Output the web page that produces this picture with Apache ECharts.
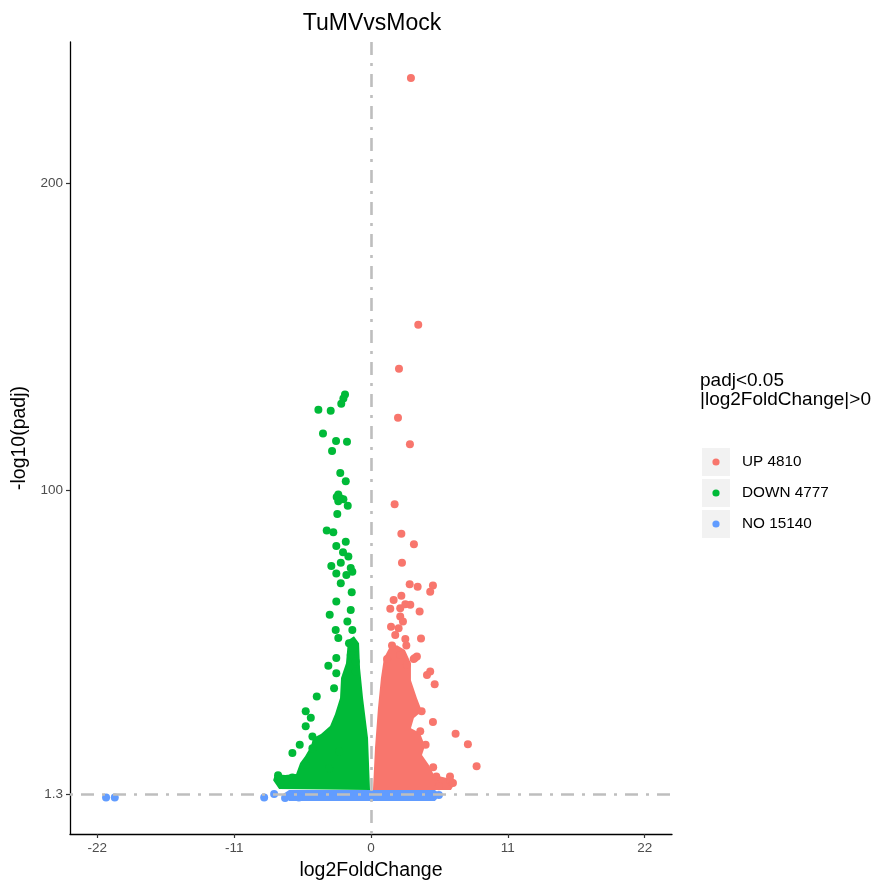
<!DOCTYPE html>
<html>
<head>
<meta charset="utf-8">
<script src="https://cdn.jsdelivr.net/npm/echarts@6/dist/echarts.min.js"></script>
<style>
  html, body { margin: 0; padding: 0; background: #fff; }
  #chart { width: 878px; height: 884px; }
</style>
</head>
<body>
<div id="chart"></div>
<script>
// Volcano plot: TuMV vs Mock differential expression
const plotTitle = 'TuMVvsMock';
const xTicks = [-22, -11, 0, 11, 22];
const yTicks = [1.3, 100, 200];
const padjCut = 1.3;
const fcCut = 0;
const legendTitle = ['padj<0.05', '|log2FoldChange|>0'];
const groupNames = ['UP', 'DOWN', 'NO'];
const groupCounts = [4810, 4777, 15140];
const groupColors = ['#F8766D', '#00BA38', '#619CFF'];

// Individually visible genes [log2FoldChange, -log10(padj)]
const upPoints = [
  [3.21, 234.1], [3.80, 153.9], [2.25, 139.6], [2.17, 123.6], [3.13, 115.0],
  [1.90, 95.5], [2.44, 85.9], [3.45, 82.5], [2.49, 76.5], [3.11, 69.5],
  [3.75, 68.7], [4.98, 69.1], [4.76, 67.1], [2.44, 65.8], [1.82, 64.4],
  [3.16, 62.8], [2.76, 63.0], [1.55, 61.5], [2.35, 61.7], [3.91, 60.6],
  [2.35, 59.0], [2.57, 57.4], [1.61, 55.7], [2.22, 55.2], [1.95, 53.0],
  [2.76, 51.7], [4.02, 51.9], [1.69, 49.6], [2.84, 49.6], [1.29, 45.2],
  [3.43, 45.2], [3.69, 46.0], [2.35, 46.5], [2.89, 43.3], [4.76, 41.1],
  [4.50, 40.0], [6.80, 20.9], [7.79, 17.5], [8.49, 10.3], [5.12, 37.0],
  [4.98, 24.7], [4.07, 28.2], [3.53, 45.5], [6.35, 7.0], [6.40, 5.4],
  [5.46, 3.8], [5.00, 10.0], [4.39, 17.3], [3.96, 21.7], [5.25, 7.0],
  [6.59, 4.9]
];
const downPoints = [
  [-2.09, 131.2], [-2.22, 129.9], [-2.39, 128.2], [-4.23, 126.2], [-3.24, 125.9],
  [-3.86, 118.5], [-2.81, 116.1], [-1.93, 115.8], [-3.13, 112.8], [-2.47, 105.7],
  [-2.03, 103.0], [-2.63, 98.7], [-2.76, 97.9], [-2.43, 97.4], [-2.22, 97.1],
  [-2.63, 96.5], [-1.87, 95.0], [-2.71, 92.3], [-3.56, 87.0], [-3.03, 86.4],
  [-2.03, 83.3], [-2.79, 81.9], [-2.25, 79.9], [-1.82, 78.5], [-2.43, 76.5],
  [-3.19, 75.4], [-1.63, 74.8], [-2.79, 73.0], [-1.98, 72.5], [-1.50, 73.6],
  [-2.43, 69.8], [-1.55, 66.9], [-2.79, 63.9], [-1.63, 61.1], [-3.32, 59.6],
  [-1.90, 57.4], [-2.84, 54.6], [-1.50, 54.6], [-2.63, 52.0], [-1.77, 50.3],
  [-1.37, 48.7], [-1.63, 46.5], [-2.79, 45.5], [-3.43, 43.0], [-1.23, 44.4],
  [-1.23, 41.1], [-2.79, 40.6], [-2.97, 35.7], [-4.36, 33.0], [-5.25, 28.2],
  [-4.84, 26.1], [-5.25, 23.3], [-4.71, 20.0], [-5.73, 17.3], [-6.32, 14.6],
  [-4.71, 16.2], [-5.25, 10.8], [-7.47, 7.4], [-6.32, 6.7], [-7.25, 4.9],
  [-2.57, 15.2], [-3.37, 9.7]
];
const noPoints = [
  [-21.3, 0.2], [-20.6, 0.2], [-8.59, 0.2], [-7.79, 1.3], [-6.91, 0.0],
  [-6.4, 0.7], [-5.8, 0.2], [5.0, 0.4], [5.46, 1.0]
];

// Outlines of the saturated regions where thousands of genes overlap
const downCore = [
  [-0.08, 2.6], [-0.24, 19.5], [-0.64, 32.5], [-0.88, 42.2], [-0.96, 50.3],
  [-1.37, 52.6], [-1.85, 51.3], [-2.01, 43.8], [-2.41, 39.0], [-2.49, 32.5],
  [-2.89, 27.3], [-3.29, 23.4], [-4.02, 20.8], [-4.66, 19.5], [-4.82, 16.9],
  [-5.30, 13.6], [-5.70, 11.4], [-6.02, 7.8], [-6.91, 7.5], [-7.71, 7.8],
  [-7.87, 5.8], [-7.39, 2.9]
];
const upCore = [
  [0.16, 2.6], [0.32, 16.2], [0.56, 29.2], [0.80, 39.0], [1.04, 45.5],
  [1.45, 48.7], [2.09, 49.7], [2.73, 48.1], [3.21, 43.8], [3.21, 38.3],
  [3.69, 32.5], [4.10, 28.2], [3.45, 26.0], [3.21, 22.7], [3.94, 21.1],
  [4.34, 16.9], [4.10, 14.0], [4.66, 10.7], [5.06, 7.5], [6.10, 6.5],
  [6.67, 4.2], [6.43, 2.6]
];
const noCore = [
  [-7.07, 1.3], [-6.59, 2.6], [5.14, 2.6], [5.54, 1.3], [5.14, -1.0], [-6.59, -1.0]
];

const FONT = '"Liberation Sans", Arial, Helvetica, sans-serif';

function coreSeries(outline, color) {
  return {
    type: 'custom',
    coordinateSystem: 'cartesian2d',
    silent: true,
    z: 2,
    data: [[0, 0]],
    renderItem: function (params, api) {
      return {
        type: 'polygon',
        shape: { points: outline.map(function (p) { return api.coord(p); }) },
        style: { fill: color }
      };
    }
  };
}

function pointSeries(name, pts, color) {
  return {
    name: name,
    type: 'scatter',
    symbol: 'circle',
    symbolSize: 8,
    z: 2,
    itemStyle: { color: color, opacity: 1 },
    data: pts
  };
}

// Legend drawn as keyed boxes to the right of the panel
const legendX = 702;
const legendTop = 448;
const keySize = 28;
const rowStep = 31;
const legendGraphics = [{
  type: 'text',
  left: 700,
  top: 371,
  style: {
    text: legendTitle.join('\n'),
    font: '19px ' + FONT,
    fill: '#000',
    lineHeight: 19
  }
}];
groupNames.forEach(function (g, i) {
  const y0 = legendTop + i * rowStep;
  legendGraphics.push({
    type: 'rect',
    shape: { x: legendX, y: y0, width: keySize, height: keySize },
    style: { fill: '#F2F2F2' }
  });
  legendGraphics.push({
    type: 'circle',
    shape: { cx: legendX + keySize / 2, cy: y0 + keySize / 2, r: 3.6 },
    style: { fill: groupColors[i] }
  });
  legendGraphics.push({
    type: 'text',
    x: legendX + 40,
    y: y0 + keySize / 2,
    style: {
      text: g + ' ' + groupCounts[i],
      font: '15.3px ' + FONT,
      fill: '#000',
      verticalAlign: 'middle'
    }
  });
});

const chart = echarts.init(document.getElementById('chart'), null, { renderer: 'canvas' });
chart.setOption({
  animation: false,
  backgroundColor: '#fff',
  title: {
    text: plotTitle,
    left: 367,
    top: 7,
    textAlign: 'center',
    textStyle: { fontSize: 23, fontWeight: 'normal', color: '#000', fontFamily: FONT }
  },
  grid: { left: 70, right: 206, top: 42, bottom: 50, containLabel: false, outerBoundsMode: 'none' },
  xAxis: {
    type: 'value',
    min: -24.2,
    max: 24.2,
    name: 'log2FoldChange',
    nameLocation: 'middle',
    nameGap: 27,
    nameTextStyle: { fontSize: 19.5, color: '#000', fontFamily: FONT },
    axisLine: { onZero: false, lineStyle: { color: '#000', width: 1.3 } },
    axisTick: { customValues: xTicks, length: 4, lineStyle: { color: '#333', width: 1.2 } },
    axisLabel: { customValues: xTicks, color: '#4D4D4D', fontSize: 13.5, margin: 7, fontFamily: FONT },
    splitLine: { show: false }
  },
  yAxis: {
    type: 'value',
    min: -11.7,
    max: 245.8,
    name: '-log10(padj)',
    nameLocation: 'middle',
    nameGap: 40,
    nameTextStyle: { fontSize: 19.5, color: '#000', fontFamily: FONT },
    axisLine: { onZero: false, lineStyle: { color: '#000', width: 1.3 } },
    axisTick: { customValues: yTicks, length: 4, lineStyle: { color: '#333', width: 1.2 } },
    axisLabel: { customValues: yTicks, color: '#4D4D4D', fontSize: 13.5, margin: 7, fontFamily: FONT },
    splitLine: { show: false }
  },
  graphic: legendGraphics,
  series: [
    coreSeries(downCore, groupColors[1]),
    pointSeries(groupNames[1], downPoints, groupColors[1]),
    coreSeries(upCore, groupColors[0]),
    pointSeries(groupNames[0], upPoints, groupColors[0]),
    coreSeries(noCore, groupColors[2]),
    pointSeries(groupNames[2], noPoints, groupColors[2]),
    {
      // significance thresholds
      type: 'scatter',
      data: [],
      z: 3,
      silent: true,
      markLine: {
        silent: true,
        symbol: 'none',
        label: { show: false },
        lineStyle: { color: '#BEBEBE', width: 2.6, type: [3, 8, 13, 8] },
        data: [{ xAxis: fcCut }, { yAxis: padjCut }]
      }
    }
  ]
});
</script>
</body>
</html>
